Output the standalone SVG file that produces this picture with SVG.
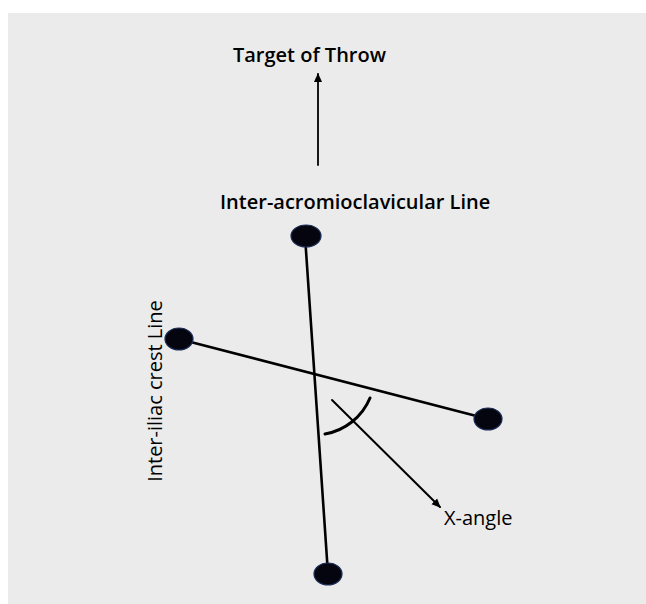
<svg xmlns="http://www.w3.org/2000/svg" width="646" height="604" viewBox="0 0 646 604">
<defs>
<marker id="ah" markerWidth="10" markerHeight="10" refX="8" refY="5" orient="auto" markerUnits="userSpaceOnUse">
<path d="M0,1 L9,5 L0,9 Z" fill="#000"/>
</marker>
<style>
.t{font-family:"Open Sans","Liberation Sans",sans-serif;font-size:20px;fill:#000}
.b{font-weight:600}
.ln{stroke:#000;stroke-width:2.6;fill:none;stroke-linecap:round}
.dot{fill:#050510;stroke:#1b2d55;stroke-width:1.2}
</style>
</defs>
<rect x="0" y="0" width="646" height="604" fill="#fff"/>
<rect x="8" y="13" width="638" height="591" fill="#ebebeb"/>
<g id="connectors">
<line class="ln" x1="305" y1="236" x2="328" y2="574"/>
<line class="ln" x1="179" y1="339" x2="488" y2="419"/>
<line class="ln" x1="318" y1="165" x2="318" y2="74" marker-end="url(#ah)" style="stroke-width:1.8"/>
<line class="ln" x1="332" y1="400" x2="440" y2="507" marker-end="url(#ah)" style="stroke-width:2"/>
<path class="ln" d="M325,434 A60,60 0 0 0 370,398" style="stroke-width:3"/>
</g>
<g id="target"><text class="t b" x="309.5" y="62" text-anchor="middle">Target of Throw</text></g>
<g id="acromio-label"><text class="t b" x="220" y="209">Inter-acromioclavicular Line</text></g>
<g id="iliac-label"><text class="t" transform="translate(162,391) rotate(-90)" text-anchor="middle">Inter-iliac crest Line</text></g>
<g id="xangle-label"><text class="t" x="444" y="525">X-angle</text></g>
<g id="dot-top"><ellipse class="dot" cx="306" cy="236" rx="15" ry="11"/></g>
<g id="dot-bottom"><ellipse class="dot" cx="328" cy="574" rx="14" ry="11"/></g>
<g id="dot-left"><ellipse class="dot" cx="179" cy="339" rx="14" ry="11"/></g>
<g id="dot-right"><ellipse class="dot" cx="488" cy="419" rx="14" ry="11"/></g>
</svg>
